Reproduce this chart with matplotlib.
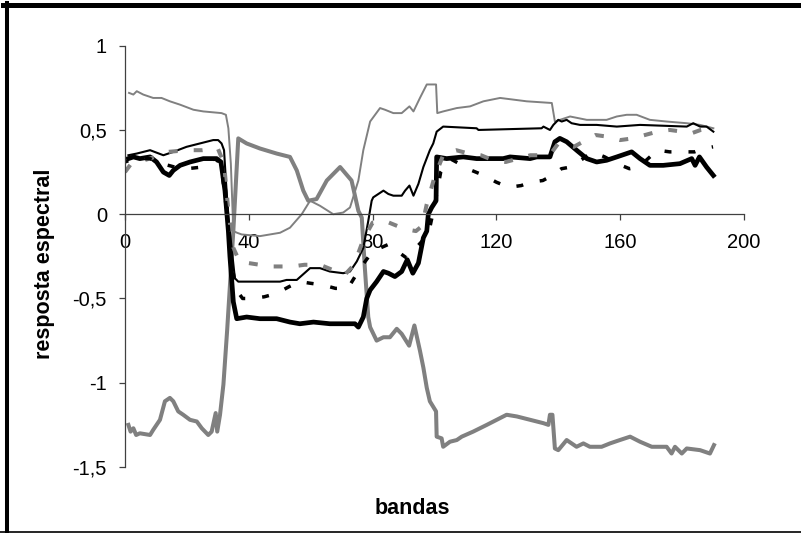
import matplotlib
matplotlib.use('Agg')
import matplotlib.pyplot as plt
from matplotlib.lines import Line2D

plt.rcParams['font.family'] = ['Liberation Sans', 'DejaVu Sans']

# dados (bandas x resposta espectral)
xa = [1.3, 2.7, 3.8, 5.9, 9.1, 11.8, 14.5, 17.8, 22.1, 25.3, 31.2, 32.6, 33.4, 34.2, 35, 36.2, 37.7, 43.6, 50.1, 53.3,
      57.1, 59.8, 63, 67.3, 70.5, 72.7, 75.4, 77, 79.2, 82.4, 84, 86.7, 89.4, 91.9, 93.2, 95.3, 97.5, 100.5, 100.9, 102.8,
      107.2, 111.5, 115.8, 121.2, 125.5, 129.8, 137.9, 138.9, 143.8, 149.2, 155.6, 158.9, 162.1, 165.3, 169.6, 175,
      181.5, 185.8, 190.1]
ya = [0.72, 0.71, 0.73, 0.71, 0.69, 0.69, 0.67, 0.65, 0.62, 0.61, 0.60, 0.59, 0.51, 0.30, -0.10, -0.11, -0.12, -0.13,
      -0.11, -0.08, 0.0, 0.08, 0.05, 0.0, 0.01, 0.04, 0.20, 0.38, 0.55, 0.63, 0.62, 0.60, 0.60, 0.64, 0.61, 0.69, 0.77,
      0.77, 0.60, 0.61, 0.63, 0.64, 0.67, 0.69, 0.68, 0.67, 0.66, 0.55, 0.58, 0.56, 0.56, 0.58, 0.59, 0.59, 0.56, 0.55,
      0.54, 0.53, 0.51]

xb = [1.1, 1.8, 2.7, 3.6, 4.8, 8.1, 9.1, 11.3, 12.9, 14.5, 15.6, 17.2, 18.8, 21, 23.2, 24.8, 26.9, 28, 29.3, 29.8,
      30.7, 31.8, 33, 35, 36.6, 39.3, 43.6, 49, 53.3, 55.5, 57.6, 59.2, 61.9, 65.2, 69.5, 73.2, 75.4, 76.5, 77.5, 78.6,
      79.2, 81.3, 83.5, 85.6, 87.8, 89.4, 91.8, 93.5, 95.3, 96.4, 97.5, 98.5, 100.5, 100.7, 102.3, 102.8, 105, 107.2,
      108.8, 112.5, 116.9, 120.1, 123.3, 126.6, 130.9, 135.2, 136.8, 137.3, 138.1, 138.9, 140, 142.7, 145.9, 148.1,
      150.2, 154, 156.7, 159.9, 163.2, 166.4, 170.2, 175, 176.6, 177.7, 179.9, 181.5, 185.8, 189, 190.3]
yb = [-1.25, -1.29, -1.27, -1.31, -1.30, -1.31, -1.28, -1.22, -1.11, -1.09, -1.11, -1.17, -1.19, -1.22, -1.23, -1.27,
      -1.31, -1.29, -1.18, -1.29, -1.19, -1.01, -0.69, -0.10, 0.45, 0.42, 0.39, 0.36, 0.34, 0.26, 0.14, 0.08, 0.09, 0.20,
      0.28, 0.20, 0.02, -0.02, -0.32, -0.61, -0.67, -0.75, -0.73, -0.73, -0.68, -0.71, -0.78, -0.66, -0.81, -0.91,
      -1.03, -1.11, -1.17, -1.32, -1.33, -1.38, -1.35, -1.34, -1.32, -1.29, -1.25, -1.22, -1.19, -1.20, -1.22, -1.24,
      -1.25, -1.19, -1.19, -1.39, -1.40, -1.34, -1.38, -1.36, -1.38, -1.38, -1.36, -1.34, -1.32, -1.35, -1.38, -1.38,
      -1.42, -1.38, -1.42, -1.39, -1.40, -1.42, -1.37]

xc = [1.1, 3.8, 8.1, 12.4, 15.6, 19.9, 24.2, 28.5, 30.1, 31.2, 32, 32.6, 33.4, 35.5, 36.6, 50.1, 52.2, 55.5, 59.8, 63,
      66.2, 70.5, 72.7, 74.9, 77, 78.6, 79.7, 80.2, 83.5, 85.1, 86.7, 89.4, 90.5, 91.9, 93.2, 94.8, 96.4, 98.5, 99.6,
      100.7, 102.8, 113.6, 114.2, 134.6, 135.2, 137.3, 138.4, 140, 141.1, 142.7, 144.3, 147, 152.4, 158.9, 166.4, 181.5,
      183.6, 185.8, 187.9, 190.1]
yc = [0.35, 0.36, 0.38, 0.35, 0.37, 0.40, 0.42, 0.44, 0.44, 0.42, 0.38, 0.20, -0.02, -0.38, -0.40, -0.40, -0.39, -0.39,
      -0.32, -0.32, -0.34, -0.35, -0.34, -0.28, -0.20, -0.04, 0.08, 0.10, 0.14, 0.12, 0.11, 0.11, 0.14, 0.17, 0.11, 0.18,
      0.28, 0.38, 0.42, 0.49, 0.52, 0.51, 0.50, 0.51, 0.52, 0.50, 0.53, 0.56, 0.55, 0.56, 0.54, 0.53, 0.53, 0.52, 0.53,
      0.52, 0.54, 0.52, 0.52, 0.49]

xd = [1.1, 2.7, 4.8, 8.1, 10.2, 12.4, 14.3, 15.6, 17.8, 21, 25.3, 29.6, 31, 32.3, 33.4, 33.9, 35, 36.1, 39.3, 43.6,
      49, 53.3, 56.5, 60.9, 66.2, 69.5, 74.3, 75.4, 77, 78.1, 79.2, 81.3, 83.5, 85.1, 87.2, 89.4, 91.2, 93, 94.8, 96.4,
      97.5, 98, 99.1, 100.5, 100.7, 103.9, 109.3, 113.6, 122.2, 124.4, 130.9, 133, 135.2, 137.3, 138.9, 140.5, 142.7,
      145.9, 149.2, 152.4, 155.6, 158.9, 163.7, 166.4, 169.6, 173.9, 179.3, 183.1, 184.2, 185.6, 187.9, 190.1]
yd = [0.33, 0.34, 0.33, 0.34, 0.31, 0.25, 0.23, 0.26, 0.29, 0.31, 0.33, 0.33, 0.31, 0.14, -0.10, -0.25, -0.52, -0.62,
      -0.61, -0.62, -0.62, -0.64, -0.65, -0.64, -0.65, -0.65, -0.65, -0.67, -0.61, -0.50, -0.45, -0.40, -0.34, -0.35,
      -0.37, -0.34, -0.27, -0.35, -0.29, -0.14, -0.10, 0.0, 0.04, 0.08, 0.34, 0.33, 0.34, 0.33, 0.33, 0.34, 0.33, 0.34,
      0.34, 0.34, 0.43, 0.45, 0.43, 0.38, 0.33, 0.31, 0.32, 0.34, 0.37, 0.33, 0.29, 0.29, 0.30, 0.33, 0.29, 0.34, 0.28,
      0.23]

xe = [0, 2, 8, 14, 20, 25, 30, 32, 33.5, 35, 37, 40, 47, 54, 58, 63, 67, 71, 74, 77, 80, 84, 88, 91, 94, 96, 97.5,
      100, 103, 107, 111, 115, 119, 123, 127, 131, 135, 138, 140, 145, 149, 152, 156, 160, 164, 168, 172, 176, 180,
      183, 186, 189, 191]
ye = [0.25, 0.30, 0.33, 0.37, 0.38, 0.38, 0.39, 0.30, 0.0, -0.20, -0.28, -0.29, -0.31, -0.31, -0.30, -0.30, -0.33,
      -0.36, -0.30, -0.15, -0.05, -0.04, -0.07, -0.09, -0.10, -0.07, 0.06, 0.22, 0.36, 0.38, 0.36, 0.35, 0.32, 0.31,
      0.33, 0.35, 0.35, 0.37, 0.42, 0.40, 0.44, 0.47, 0.46, 0.44, 0.45, 0.47, 0.49, 0.50, 0.49, 0.48, 0.50, 0.51, 0.50]

xf = [0, 3, 8, 12, 16, 20, 25, 29, 31, 33, 34.5, 36, 38, 41, 45, 49, 53, 56.5, 60, 64, 68, 72, 76, 80, 85, 88, 91, 94,
      98, 100, 102, 105, 108, 112, 116, 120, 124, 128, 131, 135, 138, 141, 144, 148, 151, 155, 159, 163, 166, 169, 172,
      176, 180, 184, 187, 190]
yf = [0.31, 0.33, 0.33, 0.30, 0.28, 0.27, 0.28, 0.33, 0.30, 0.0, -0.30, -0.45, -0.50, -0.50, -0.49, -0.47, -0.43,
      -0.40, -0.41, -0.42, -0.44, -0.44, -0.32, -0.22, -0.18, -0.22, -0.26, -0.20, -0.12, 0.05, 0.25, 0.33, 0.30, 0.26,
      0.23, 0.19, 0.16, 0.17, 0.19, 0.20, 0.23, 0.27, 0.28, 0.33, 0.37, 0.34, 0.30, 0.27, 0.28, 0.33, 0.38, 0.37, 0.37,
      0.37, 0.39, 0.40]

xticks = [0, 40, 80, 120, 160, 200]
yticks = [-1.5, -1, -0.5, 0, 0.5, 1]
ytick_labels = ['-1,5', '-1', '-0,5', '0', '0,5', '1']

W, H = 801, 533
fig = plt.figure(figsize=(W / 100, H / 100), dpi=100)
ax = fig.add_axes([125 / W, 1 - 467 / H, (744 - 125) / W, (467 - 45.7) / H])

cinza = '#808080'
ax.plot(xa, ya, color=cinza, lw=1.4)
ax.plot(xb, yb, color=cinza, lw=2.9)
ax.plot(xc, yc, color='black', lw=1.5)
ax.plot(xd, yd, color='black', lw=3.4)
ax.plot(xe, ye, color=cinza, lw=2.9, linestyle=(0, (2.2, 4.0)))
ax.plot(xf, yf, color='black', lw=2.5, linestyle=(1, (2.0, 4.9)))

ax.set_xlim(0, 200)
ax.set_ylim(-1.5, 1)
ax.set_xticks(xticks)
ax.set_yticks(yticks)
ax.set_yticklabels(ytick_labels)

# eixos no estilo do Excel
ax.spines['top'].set_visible(False)
ax.spines['right'].set_visible(False)
ax.spines['bottom'].set_position(('data', 0))
for s in ['left', 'bottom']:
    ax.spines[s].set_color('#404040')
    ax.spines[s].set_linewidth(0.9)
ax.tick_params(axis='both', direction='out', length=4.5, width=0.9, color='#404040', labelsize=14.5)
ax.tick_params(axis='x', pad=9)
ax.tick_params(axis='y', pad=8.5)

fig.text(45 / W, 1 - 264 / H, 'resposta espectral', rotation=90, ha='center', va='center',
         fontsize=15.5, fontweight='bold')
fig.text(412 / W, 1 - 508 / H, 'bandas', ha='center', va='center', fontsize=15.5, fontweight='bold')

# moldura
fig.add_artist(Line2D([3 / W, 1], [1 - 4.5 / H, 1 - 4.5 / H], transform=fig.transFigure, color='black', lw=3.6))
fig.add_artist(Line2D([7 / W, 7 / W], [0, 1 - 3 / H], transform=fig.transFigure, color='black', lw=2.9))
fig.add_artist(Line2D([0, 1], [1 - 531.7 / H, 1 - 531.7 / H], transform=fig.transFigure, color='black', lw=1.2))

fig.savefig('out.png', dpi=100)
